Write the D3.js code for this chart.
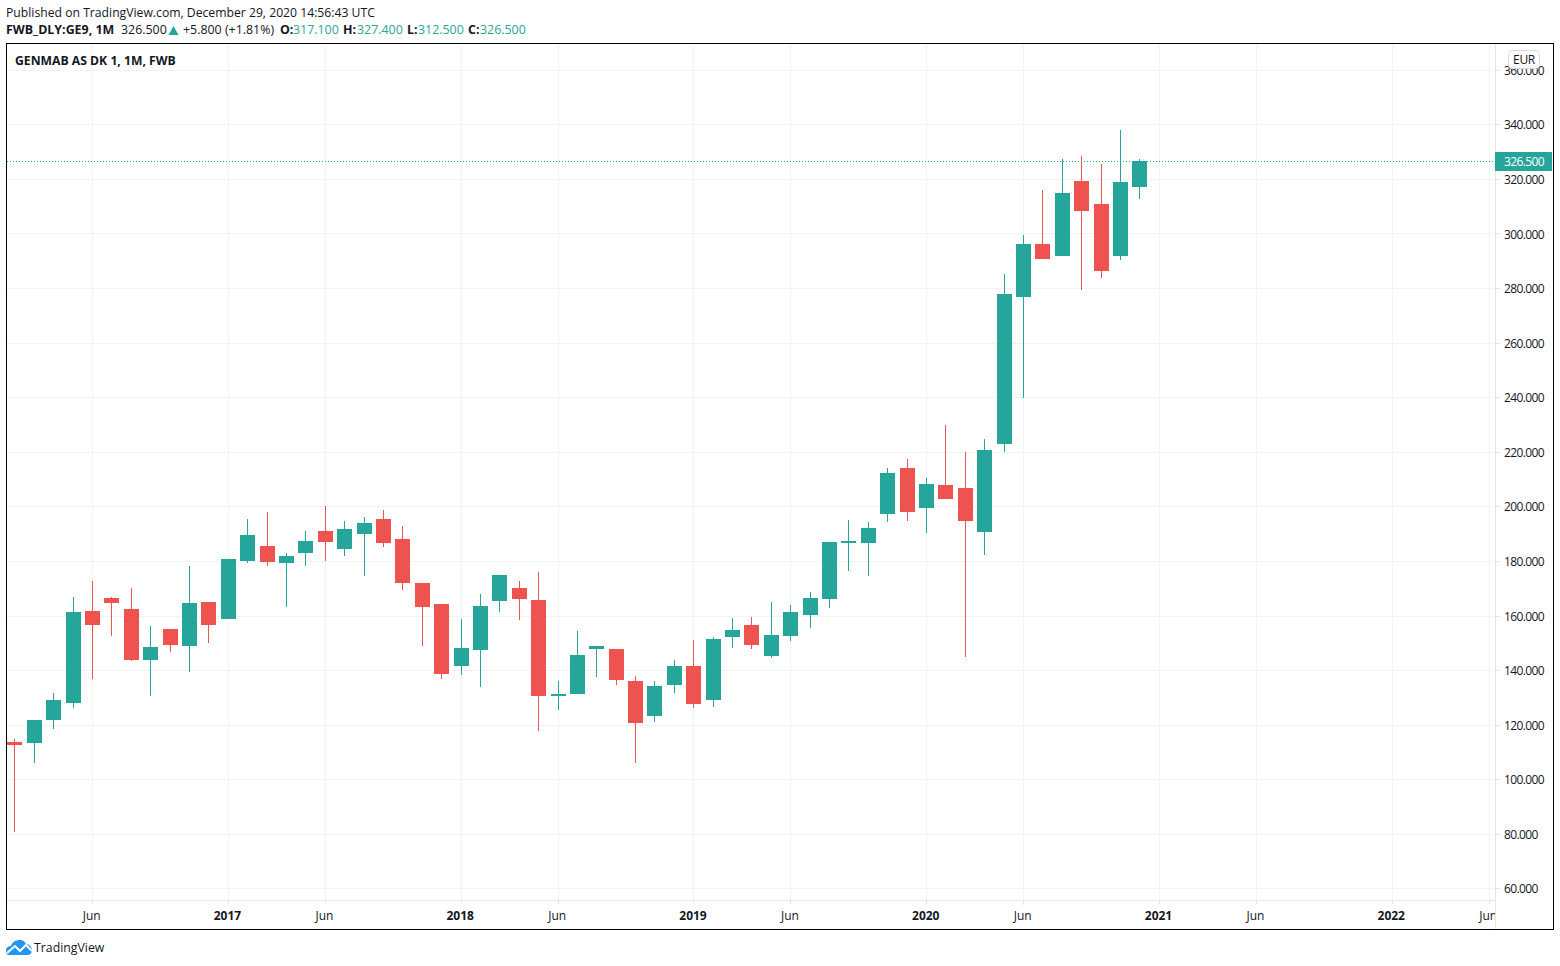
<!DOCTYPE html>
<html>
<head>
<meta charset="utf-8">
<style>
  html, body { margin: 0; padding: 0; background: #fff; }
  svg { display: block; }
  text { font-family: "Open Sans", sans-serif; fill: #131722; }
</style>
<script src="https://cdn.jsdelivr.net/npm/d3@7"></script>
</head>
<body>
<script>
"use strict";
/*
Monthly candles, one entry per month starting Feb 2016.
Values, last bar is the quoted O/H/L/C.
*/
var opens = [113.7,113.3,121.7,127.9,161.6,166.4,162.4,143.7,155.1,148.8,165.0,158.7,180.0,185.5,179.3,182.9,191.0,184.4,189.9,195.4,188.0,171.9,164.2,141.5,147.4,165.3,170.1,165.7,130.5,131.3,147.7,147.7,136.0,123.2,134.5,141.5,129.0,152.1,156.5,145.2,152.5,160.2,166.1,186.6,186.6,197.2,214.1,199.4,207.8,206.7,190.6,222.9,276.7,296.1,291.7,319.2,310.8,291.7,317.1];
var highs = [114.8,121.7,131.6,166.8,172.6,166.8,170.1,156.2,155.1,178.1,165.0,180.7,195.4,197.9,182.9,191.0,200.1,194.6,196.1,198.7,192.8,171.9,164.2,158.7,167.9,174.8,172.6,175.9,136.0,154.3,148.8,147.7,137.8,136.0,143.7,151.0,152.1,159.1,159.5,165.0,163.9,168.6,186.9,195.0,194.3,214.1,217.4,210.4,229.8,219.9,224.7,285.1,299.4,315.9,327.3,328.4,325.4,337.9,327.4];
var lows = [80.7,105.9,118.4,126.1,136.7,152.5,143.3,130.5,146.6,139.3,149.9,158.7,179.3,178.1,163.1,178.1,180.0,181.8,174.5,185.1,169.4,148.8,136.7,138.2,133.8,161.3,158.4,117.7,125.4,131.3,137.5,134.5,105.9,121.0,131.6,126.1,126.5,148.1,147.7,144.4,150.7,155.4,162.8,176.3,174.5,194.3,194.6,190.2,202.7,144.8,182.2,219.9,239.7,290.6,291.7,279.3,283.7,290.3,312.5];
var closes = [112.6,121.7,129.0,161.3,156.5,164.6,143.7,148.5,149.2,164.6,156.5,180.7,189.5,179.6,181.8,187.3,186.9,191.7,193.9,186.6,171.9,163.1,138.6,148.1,163.5,174.8,166.1,130.5,131.3,145.6,148.8,136.4,120.6,134.2,141.5,127.6,151.4,154.7,149.2,152.9,161.3,166.4,186.9,187.3,192.1,212.2,197.9,208.2,202.7,194.6,220.6,277.8,296.1,290.6,314.8,308.2,286.2,318.9,326.5];

var priceTicks = [60,80,100,120,140,160,180,200,220,240,260,280,300,320,340,360];
// bar index of each time label
var timeTickBars = [4,11,16,23,28,35,40,47,52,59,64,71,76];
var timeTickLabels = ["Jun","2017","Jun","2018","Jun","2019","Jun","2020","Jun","2021","Jun","2022","Jun"];
var lastPrice = 326.5;

var width = 1560, height = 966,
    plotLeft = 7, plotRight = 1495, plotTop = 44, plotBottom = 900,
    frameRight = 1553.5, frameBottom = 929.5,
    teal = "#26a69a", red = "#ef5350", gridColor = "#f0f3fa", axisLine = "#e6e6e6";

var svg = d3.select("body").append("svg")
    .attr("width", width)
    .attr("height", height);

var x = d3.scaleLinear().domain([0, 58]).range([14.4, 1139.4]);
var y = d3.scaleLinear().domain([60, 340]).range([888.4, 124.3]);

svg.append("clipPath").attr("id", "plotClip")
    .append("rect")
    .attr("x", plotLeft).attr("y", plotTop)
    .attr("width", plotRight - plotLeft).attr("height", plotBottom - plotTop);

/* grid */
var grid = svg.append("g").attr("shape-rendering", "crispEdges");
grid.selectAll(".h").data(priceTicks).join("line")
    .attr("x1", plotLeft).attr("x2", plotRight)
    .attr("y1", function(d) { return Math.round(y(d)) + 0.5; })
    .attr("y2", function(d) { return Math.round(y(d)) + 0.5; })
    .attr("stroke", gridColor);
grid.selectAll(".v").data(timeTickBars).join("line")
    .attr("x1", function(d) { return Math.round(x(d)) + 0.5; })
    .attr("x2", function(d) { return Math.round(x(d)) + 0.5; })
    .attr("y1", plotTop).attr("y2", plotBottom)
    .attr("stroke", gridColor);

/* candles */
var candles = svg.append("g").attr("clip-path", "url(#plotClip)").attr("shape-rendering", "crispEdges");
var bars = d3.range(opens.length);
function barColor(i) { return closes[i] >= opens[i] ? teal : red; }

candles.selectAll(".wick").data(bars).join("line")
    .attr("class", "wick")
    .attr("x1", function(i) { return Math.round(x(i)) + 0.5; })
    .attr("x2", function(i) { return Math.round(x(i)) + 0.5; })
    .attr("y1", function(i) { return y(highs[i]); })
    .attr("y2", function(i) { return y(lows[i]); })
    .attr("stroke", barColor);

candles.selectAll(".body").data(bars).join("rect")
    .attr("class", "body")
    .attr("x", function(i) { return Math.round(x(i)) - 7; })
    .attr("width", 15)
    .attr("y", function(i) { return y(Math.max(opens[i], closes[i])); })
    .attr("height", function(i) { return Math.max(2, Math.abs(y(opens[i]) - y(closes[i]))); })
    .attr("fill", barColor);

/* last price line */
svg.append("line")
    .attr("x1", plotLeft).attr("x2", plotRight)
    .attr("y1", Math.round(y(lastPrice)) + 0.5).attr("y2", Math.round(y(lastPrice)) + 0.5)
    .attr("stroke", teal)
    .attr("stroke-dasharray", "1 2")
    .attr("shape-rendering", "crispEdges");

/* price axis */
var priceAxis = d3.axisRight(y)
    .tickValues(priceTicks)
    .tickFormat(d3.format(".3f"))
    .tickSize(5)
    .tickPadding(4);
var gPrice = svg.append("g")
    .attr("transform", "translate(" + plotRight + ",0)")
    .call(priceAxis);
gPrice.select(".domain").remove();
gPrice.selectAll("line").attr("stroke", axisLine).attr("shape-rendering", "crispEdges");
gPrice.selectAll("text")
    .attr("dy", "0.38em")
    .style("font-size", "12px")
    .style("letter-spacing", "-0.6px");

/* time axis */
var timeAxis = d3.axisBottom(x)
    .tickValues(timeTickBars)
    .tickFormat(function(d, i) { return timeTickLabels[i]; })
    .tickSize(4)
    .tickPadding(7);
var gTime = svg.append("g")
    .attr("transform", "translate(0," + plotBottom + ")")
    .call(timeAxis);
gTime.select(".domain").remove();
gTime.selectAll("line").attr("stroke", axisLine).attr("shape-rendering", "crispEdges");
gTime.selectAll("text")
    .attr("dx", -0.8)
    .style("font-size", "12px")
    .style("font-weight", function(d, i) { return /^\d/.test(timeTickLabels[i]) ? 700 : 400; });

/* axis lines, cover the labels that run out of the plot */
svg.append("rect").attr("x", plotRight + 1).attr("y", plotBottom + 1).attr("width", 58).attr("height", 28).attr("fill", "#fff");
svg.append("rect").attr("x", plotLeft).attr("y", plotBottom).attr("width", plotRight - plotLeft).attr("height", 1).attr("fill", axisLine);
svg.append("rect").attr("x", plotRight).attr("y", plotTop).attr("width", 1).attr("height", frameBottom - plotTop).attr("fill", axisLine);

/* last price tag */
svg.append("rect")
    .attr("x", plotRight).attr("width", 57)
    .attr("y", 152).attr("height", 19)
    .attr("fill", teal);
svg.append("text")
    .attr("x", 1504).attr("y", y(lastPrice) + 4.5)
    .style("font-size", "12px")
    .style("letter-spacing", "-0.6px")
    .style("fill", "#fff")
    .text("326.500");

/* currency box */
svg.append("rect")
    .attr("x", 1508.5).attr("y", 50.5).attr("width", 31).attr("height", 18).attr("rx", 4)
    .attr("fill", "#fff").attr("fill-opacity", 0.92).attr("stroke", "#d6d9e2");
svg.append("text")
    .attr("x", 1524).attr("y", 63.5)
    .attr("text-anchor", "middle")
    .style("font-size", "12px")
    .style("letter-spacing", "-0.3px")
    .text("EUR");

/* frame */
svg.append("rect")
    .attr("x", 6.5).attr("y", 43.5)
    .attr("width", frameRight - 6.5).attr("height", frameBottom - 43.5)
    .attr("fill", "none")
    .attr("stroke", "#000")
    .attr("shape-rendering", "crispEdges");

/* headers */
svg.append("text").attr("x", 6).attr("y", 17).style("font-size", "12.2px")
    .text("Published on TradingView.com, December 29, 2020 14:56:43 UTC");

// x of each piece of the quote line, measured on the reference
var infoParts = [
    {x: 6, text: "FWB_DLY:GE9, 1M", bold: true},
    {x: 121, text: "326.500"},
    {x: 183, text: "+5.800 (+1.81%)"},
    {x: 280, text: "O:", bold: true},
    {x: 293, text: "317.100", teal: true},
    {x: 343, text: "H:", bold: true},
    {x: 357, text: "327.400", teal: true},
    {x: 407, text: "L:", bold: true},
    {x: 418, text: "312.500", teal: true},
    {x: 468, text: "C:", bold: true},
    {x: 480, text: "326.500", teal: true}
];
svg.append("g").selectAll("text").data(infoParts).join("text")
    .attr("x", function(d) { return d.x; })
    .attr("y", 34)
    .style("font-size", "12.4px")
    .style("font-weight", function(d) { return d.bold ? 700 : 400; })
    .style("fill", function(d) { return d.teal ? teal : "#131722"; })
    .text(function(d) { return d.text; });
svg.append("polygon").attr("points", "168.5,35 178.5,35 173.5,26").attr("fill", teal);

svg.append("text").attr("x", 15).attr("y", 65)
    .style("font-size", "12.2px").style("font-weight", 700)
    .text("GENMAB AS DK 1, 1M, FWB");

/* logo */
var logo = svg.append("g").attr("transform", "translate(6,940)");
logo.append("path")
    .attr("d", "M0 11 C0 7 3 6 5 6 C6 2 10 0 14 0 C17 0 19 2 20 4 C23 4 26 7 26 10 C26 13 24 15 21 15 L3 15 C1 15 0 13 0 11 Z")
    .attr("fill", "#2196f3");
logo.append("path")
    .attr("d", "M1 13 L9 6 L14 11 L20 5 L26 11")
    .attr("fill", "none").attr("stroke", "#fff").attr("stroke-width", 2);
svg.append("text").attr("x", 34).attr("y", 952).style("font-size", "12.3px").text("TradingView");
</script>
</body>
</html>
